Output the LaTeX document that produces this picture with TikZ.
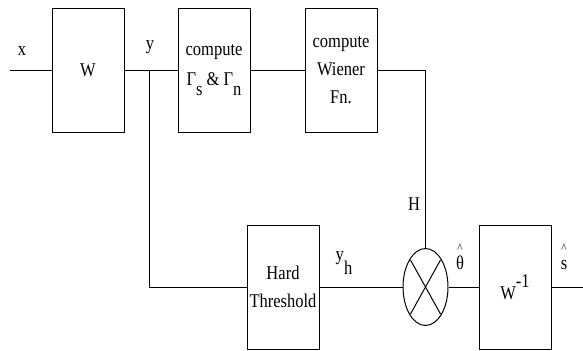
\documentclass[tikz,border=0pt]{standalone}
\usepackage{fontspec}
\setmainfont{Liberation Serif}[FakeStretch=0.85]
\usetikzlibrary{positioning,shapes.geometric}
\newcommand{\blkfont}{\fontsize{19.5}{28}\selectfont}
\newcommand{\hatmark}{{\fontsize{13}{13}\selectfont\^{}}}
\tikzset{
  blk/.style={draw, line width=1pt, minimum width=72bp, minimum height=124bp, align=center, inner sep=1pt, font=\blkfont},
  wire/.style={line width=1pt},
  lbl/.style={inner sep=0pt, font=\blkfont},
  mulnode/.style={draw, ellipse, line width=1pt, minimum width=45bp, minimum height=77bp, inner sep=0pt}
}

\begin{document}
\begin{tikzpicture}[x=1bp, y=-1bp]
    \useasboundingbox (0,0) rectangle (583,350);
    \node[blk] (w) at (88,70) {W};
    \node[blk, right=53bp of w] (gam) {compute\\[2pt]Γ\raisebox{-1.1ex}{s} \& Γ\raisebox{-1.1ex}{n}};
    \node[blk, right=54bp of gam] (wien) {compute\\Wiener\\Fn.};
    \node[blk] (thr) at (283,287) {Hard\\Threshold};
    \node[mulnode] (mul) at (425.5,287) {};
    \node[blk] (winv) at (515,287) {W\raisebox{1.4ex}{-1}};
    \coordinate (xin) at (10,70);
    \coordinate (jy) at (149,70);
    \coordinate (out) at (583,287);
    % labels
    \node[lbl] (lx) at (22,51) {x};
    \node[lbl] (ly) at (150,47) {y};
    \node[lbl] (lh) at (414,204) {H};
    \node[lbl] (lyh) at (344,263) {y\raisebox{-1.6ex}{h}};
    \node[lbl] (lth) at (460,257) {\shortstack{\hatmark\\[1pt]θ}};
    \node[lbl] (ls) at (564,257) {\shortstack{\hatmark\\[5pt]s}};
    % connections
    \draw[wire] (xin) -- (w);
    \draw[wire] (w) -- (gam);
    \draw[wire] (gam) -- (wien);
    \draw[wire] (jy) -- (jy |- thr.west) -- (thr.west);
    \draw[wire] (wien.east) -| (mul.north);
    \draw[wire] (thr) -- (mul);
    \draw[wire] (mul) -- (winv);
    \draw[wire] (winv) -- (out);
    \draw[wire] ([shift={(-15,-27)}]mul.center) -- ([shift={(15,27)}]mul.center);
    \draw[wire] ([shift={(15,-27)}]mul.center) -- ([shift={(-15,27)}]mul.center);
\end{tikzpicture}
\end{document}
